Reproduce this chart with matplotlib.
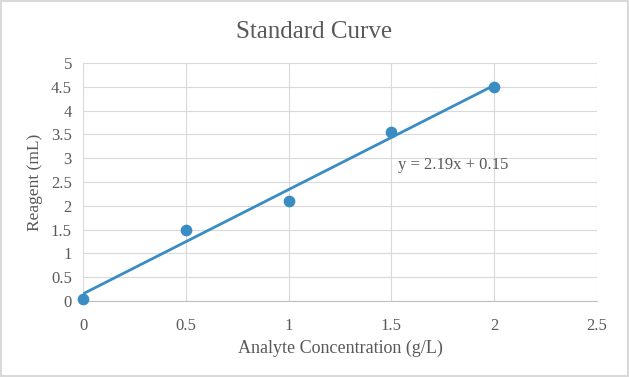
import numpy as np
from matplotlib import pyplot as plt

conc = [0, 0.5, 1, 1.5, 2]
reagent = [0.05, 1.5, 2.1, 3.55, 4.5]
xticks = [0, 0.5, 1, 1.5, 2, 2.5]
yticks = [0, 0.5, 1, 1.5, 2, 2.5, 3, 3.5, 4, 4.5, 5]

plt.rcParams['font.family'] = ['Liberation Serif', 'DejaVu Serif']
blue = '#3a8dc3'
gray = '#595959'

fig = plt.figure(figsize=(6.29, 3.77), dpi=100)
ax = fig.add_axes([0.132, 0.2016, 0.817, 0.6314])

slope, intercept = np.polyfit(conc, reagent, 1)
xs = np.array([min(conc), max(conc)])
ax.plot(xs, slope * xs + intercept, color=blue, linewidth=2, zorder=3)
ax.scatter(conc, reagent, color=blue, s=55, zorder=4, clip_on=False)

ax.text(1.53, 2.86, 'y = %.2fx + %.2f' % (slope, intercept), fontsize=12,
        color=gray, va='center', ha='left')

ax.set_xlim(0, 2.5)
ax.set_ylim(0, 5)
ax.set_xticks(xticks)
ax.set_xticklabels([f'{t:g}' for t in xticks])
ax.set_yticks(yticks)
ax.set_yticklabels([f'{t:g}' for t in yticks])
ax.grid(True, color='#d9d9d9', linewidth=0.8)
ax.set_axisbelow(True)
for s in ['top', 'right', 'left']:
    ax.spines[s].set_visible(False)
ax.spines['bottom'].set_color('#bfbfbf')
ax.tick_params(axis='x', length=0, labelsize=12, colors=gray, pad=12)
ax.tick_params(axis='y', length=0, labelsize=12, colors=gray, pad=8)

fig.text(0.5, 0.915, 'Standard Curve', fontsize=18, color=gray, ha='center', va='center')
ax.set_xlabel('Analyte Concentration (g/L)', fontsize=13, color=gray, labelpad=4)
ax.set_ylabel('Reagent (mL)', fontsize=12.5, color=gray, labelpad=6)

border = plt.Rectangle((0.002, 0.003), 0.996, 0.994, transform=fig.transFigure,
                       fill=False, edgecolor='#d9d9d9', linewidth=1.5)
fig.patches.append(border)

fig.savefig('out.png', dpi=100)
